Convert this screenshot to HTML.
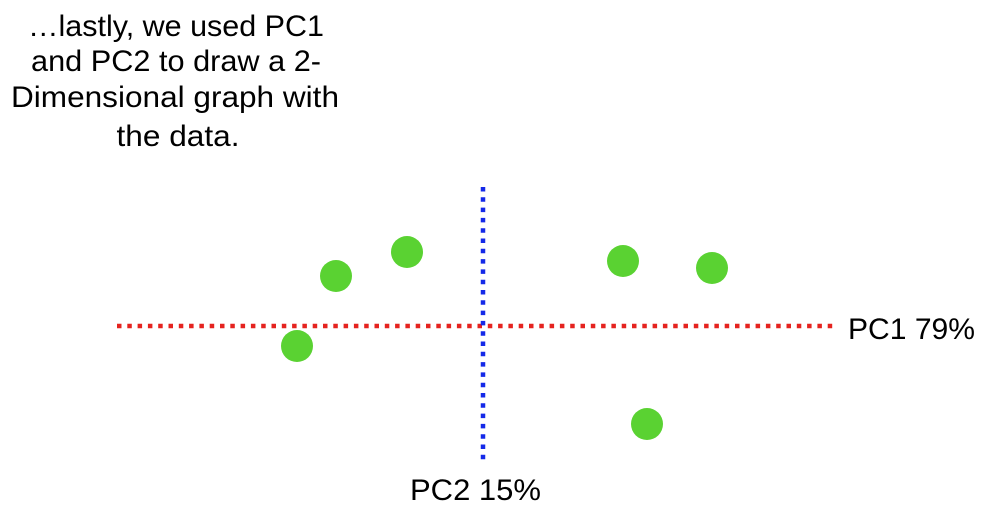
<!DOCTYPE html>
<html><head><style>
html,body{margin:0;padding:0;background:#fff;width:998px;height:516px;overflow:hidden}
</style></head><body>
<svg width="998" height="516" xmlns="http://www.w3.org/2000/svg" font-family="'Liberation Sans', sans-serif" font-size="30" fill="#000">
<text text-anchor="middle" x="176" y="36" textLength="296" lengthAdjust="spacingAndGlyphs">…lastly, we used PC1</text>
<text text-anchor="middle" x="176" y="71" textLength="290" lengthAdjust="spacingAndGlyphs">and PC2 to draw a 2-</text>
<text text-anchor="middle" x="175" y="107" textLength="328" lengthAdjust="spacingAndGlyphs">Dimensional graph with</text>
<text text-anchor="middle" x="178" y="146" textLength="123" lengthAdjust="spacingAndGlyphs">the data.</text>
<line x1="117" y1="326" x2="834" y2="326" stroke="#e5231f" stroke-width="4.5" stroke-dasharray="4.5 5.8"/>
<line x1="483" y1="187" x2="483" y2="462" stroke="#1429e8" stroke-width="4.5" stroke-dasharray="4.5 5.8"/>
<g fill="#5ad232">
<circle cx="336" cy="276" r="16"/>
<circle cx="407" cy="252" r="16"/>
<circle cx="297" cy="346" r="16"/>
<circle cx="623" cy="261" r="16"/>
<circle cx="712" cy="268" r="16"/>
<circle cx="647" cy="424" r="16"/>
</g>
<text x="848" y="339" textLength="127" lengthAdjust="spacingAndGlyphs">PC1 79%</text>
<text x="410" y="500" textLength="131" lengthAdjust="spacingAndGlyphs">PC2 15%</text>
</svg>
</body></html>
